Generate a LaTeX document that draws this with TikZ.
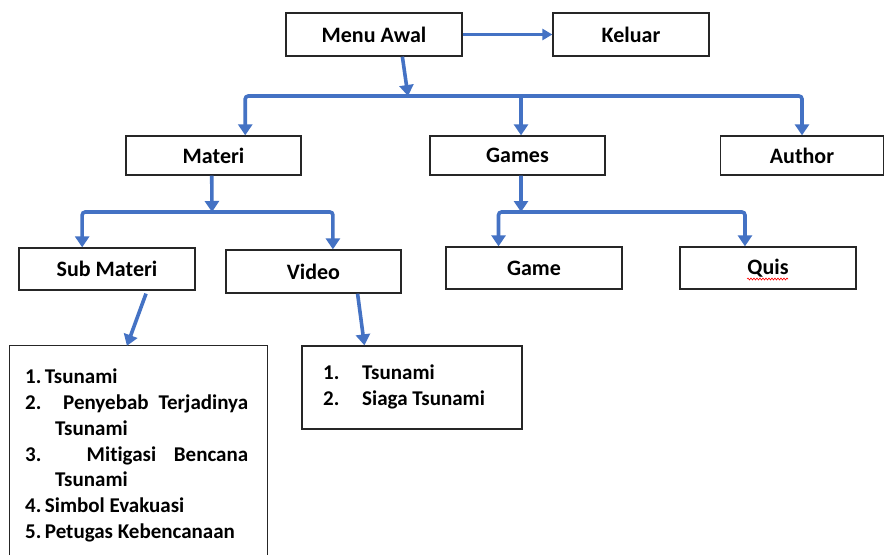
\documentclass[tikz,border=0pt]{standalone}
\usepackage{fontspec}
\setmainfont{Carlito}[Ligatures=NoCommon]
\usetikzlibrary{arrows.meta,calc,decorations.pathmorphing}
\definecolor{lineblue}{HTML}{4472C4}
\begin{document}
\begin{tikzpicture}[x=1pt,y=-1pt,
  box/.style={draw=black!85,line width=1.3pt,inner sep=0pt,font=\fontsize{22}{26}\selectfont\bfseries},
  boxline/.style={draw=black!85,line width=1.3pt},
  conn/.style={draw=lineblue,line width=3.6pt,-{Triangle[width=14pt,length=11pt]}},
  thinconn/.style={draw=lineblue,line width=2.6pt,-{Triangle[width=11pt,length=10pt]}},
  listtext/.style={inner sep=0pt,align=left,font=\fontsize{21}{25.7}\selectfont\bfseries},
]
\useasboundingbox (0,0) rectangle (885,555);
\fill[white] (0,0) rectangle (885,555);

% boxes
\node[box,minimum width=176pt,minimum height=43pt] (menu) at (374,34.5) {Menu Awal};
\node[box,minimum width=156pt,minimum height=43pt] (keluar) at (631,34.5) {Keluar};
\node[box,minimum width=175pt,minimum height=39pt] (materi) at (213.5,155.5) {Materi};
\node[box,minimum width=175pt,minimum height=39pt] (games) at (517.5,155.5) {Games};
\node[box,minimum width=163pt,minimum height=39pt] (author) at (802,155.5) {Author};
\node[box,minimum width=176pt,minimum height=42pt] (submateri) at (107,269) {Sub Materi};
\node[box,minimum width=175pt,minimum height=43pt] (video) at (313.5,271.5) {Video};
\node[box,minimum width=176pt,minimum height=42pt] (game) at (534,268) {Game};
\node[box,minimum width=176pt,minimum height=42pt] (quis) at (768,268) {Quis};
\draw[red,line width=0.6pt,decorate,decoration={snake,amplitude=1pt,segment length=3pt}]
  ($(quis.center)+(-21,11)$) -- ($(quis.center)+(20,11)$);

% list boxes
\node[inner sep=0pt,minimum width=257pt,minimum height=209pt] (sublist) at (138.5,450.5) {};
\draw[boxline] (sublist.south west) -- (sublist.north west) -- (sublist.north east) -- (sublist.south east);
\node[listtext,anchor=north west] (sublisttext) at (25,369) {%
1.\,Tsunami\\
\makebox[223pt][s]{2. Penyebab Terjadinya}\\
\hspace*{30pt}Tsunami\\
\makebox[223pt][s]{3. Mitigasi Bencana}\\
\hspace*{30pt}Tsunami\\
4.\,Simbol Evakuasi\\
5.\,Petugas Kebencanaan};

\node[draw=black!85,line width=1.3pt,inner sep=0pt,minimum width=220pt,minimum height=83pt] (vidlist) at (412,387.5) {};
\node[listtext,anchor=north west,font=\fontsize{21}{26}\selectfont\bfseries] (vidlisttext) at (323,365) {%
\makebox[39pt][l]{1.}Tsunami\\
\makebox[39pt][l]{2.}Siaga Tsunami};

% connectors
\draw[thinconn] (menu.east) -- (keluar.west);

\coordinate (j1) at (408,96);
\draw[conn] ($(menu.south west)!0.66!(menu.south east)$) -- (j1);
\coordinate (matIn) at ($(materi.north west)!0.68!(materi.north east)$);
\coordinate (gamesIn) at ($(games.north west)!0.52!(games.north east)$);
\draw[conn,rounded corners=3pt] (j1) -| (matIn);
\draw[conn,rounded corners=3pt] (j1) -| (author.north);
\draw[conn] (gamesIn |- j1) -- (gamesIn);

\coordinate (j2) at (212,212);
\coordinate (matOut) at ($(materi.south west)!0.49!(materi.south east)$);
\draw[conn] (matOut) -- (j2);
\coordinate (subIn) at ($(submateri.north west)!0.36!(submateri.north east)$);
\coordinate (vidIn) at ($(video.north west)!0.61!(video.north east)$);
\draw[conn,rounded corners=3pt] (j2) -| (subIn);
\draw[conn,rounded corners=3pt] (j2) -| (vidIn);

\coordinate (j3) at (521,212);
\coordinate (gamesOut) at ($(games.south west)!0.52!(games.south east)$);
\draw[conn] (gamesOut) -- (j3);
\coordinate (gameIn) at ($(game.north west)!0.30!(game.north east)$);
\coordinate (quisIn) at ($(quis.north west)!0.37!(quis.north east)$);
\draw[conn,rounded corners=3pt] (j3) -| (gameIn);
\draw[conn,rounded corners=3pt] (j3) -| (quisIn);

\coordinate (subOut) at ($(submateri.south west)!0.72!(submateri.south east)+(0,3)$);
\coordinate (subListIn) at ($(sublist.north west)!0.455!(sublist.north east)$);
\draw[conn] (subOut) -- (subListIn);
\coordinate (vidOut) at ($(video.south west)!0.75!(video.south east)$);
\coordinate (vidListIn) at ($(vidlist.north west)!0.285!(vidlist.north east)$);
\draw[conn] (vidOut) -- (vidListIn);
\end{tikzpicture}
\end{document}
